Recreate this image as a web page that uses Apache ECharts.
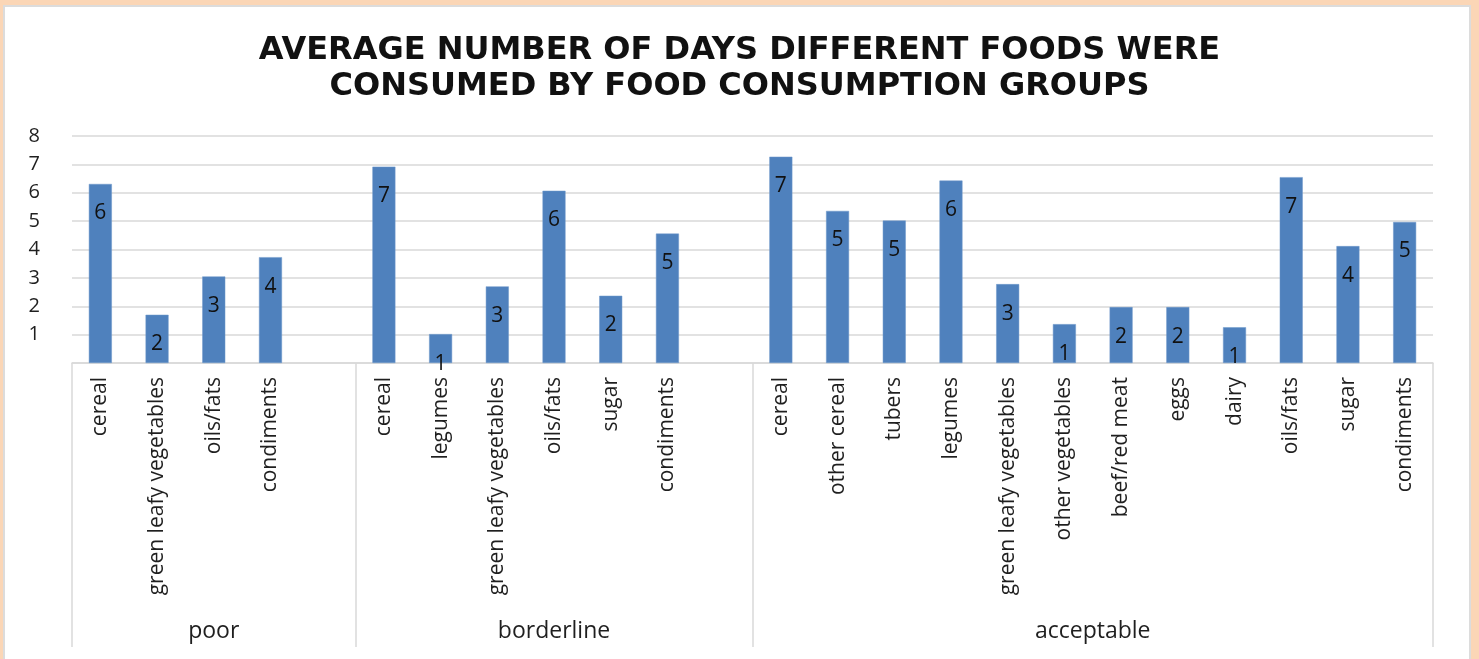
<!DOCTYPE html>
<html>
<head>
<meta charset="utf-8">
<title>Average number of days different foods were consumed</title>
<script src="https://cdn.jsdelivr.net/npm/echarts@6/dist/echarts.min.js"></script>
<style>
  html, body { margin: 0; padding: 0; width: 1479px; height: 659px; background: #FBD6B6; overflow: hidden; }
  #panel { position: absolute; left: 3px; top: 5px; width: 1468px; height: 654px; background: #fff;
           border-left: 2px solid #DCDCDC; border-top: 2px solid #DCDCDC; border-right: 2px solid #DCDCDC; box-sizing: border-box; }
  #chart { position: absolute; left: 0; top: 0; width: 1479px; height: 659px; }
</style>
</head>
<body>
<div id="panel"></div>
<div id="chart"></div>
<script>
// Food consumption groups and the foods counted in each
const groupNames = ['poor', 'borderline', 'acceptable'];

const poorFoods = ['cereal', 'green leafy vegetables', 'oils/fats', 'condiments'];
const poorDays = [6.31, 1.70, 3.05, 3.73];

const borderlineFoods = ['cereal', 'legumes', 'green leafy vegetables', 'oils/fats', 'sugar', 'condiments'];
const borderlineDays = [6.92, 1.02, 2.70, 6.07, 2.37, 4.56];

const acceptableFoods = ['cereal', 'other cereal', 'tubers', 'legumes', 'green leafy vegetables',
  'other vegetables', 'beef/red meat', 'eggs', 'dairy', 'oils/fats', 'sugar', 'condiments'];
const acceptableDays = [7.27, 5.36, 5.02, 6.43, 2.78, 1.37, 1.97, 1.97, 1.26, 6.55, 4.12, 4.97];

const yTicks = [0, 1, 2, 3, 4, 5, 6, 7, 8];

// Flatten into one category list; an empty slot follows every group but the last
const groupFoods = [poorFoods, borderlineFoods, acceptableFoods];
const groupDays = [poorDays, borderlineDays, acceptableDays];
const categories = [];
const values = [];
const groupSpans = [];
groupFoods.forEach((foods, g) => {
  const start = categories.length;
  foods.forEach((f, i) => { categories.push(f); values.push(groupDays[g][i]); });
  if (g < groupFoods.length - 1) { categories.push(''); values.push(null); }
  groupSpans.push([start, categories.length]);
});

// Group axis: boundary points on half-category steps so labels can sit at group centres
const halfSteps = categories.length * 2;
const groupAxisData = [];
const dividerIdx = new Set([0]);
const labelIdx = {};
for (let k = 0; k <= halfSteps; k++) groupAxisData.push('');
groupSpans.forEach(([s, e], g) => {
  dividerIdx.add(e * 2);
  const mid = s + e;           // (s+e)/2 in categories = s+e in half steps
  labelIdx[mid] = groupNames[g];
  groupAxisData[mid] = groupNames[g];
});

const chart = echarts.init(document.getElementById('chart'));
const axisGray = '#D9D9D9';
const textColor = '#1F1F1F';

chart.setOption({
  backgroundColor: 'transparent',
  animation: false,
  title: {
    text: 'AVERAGE NUMBER OF DAYS DIFFERENT FOODS WERE\nCONSUMED BY FOOD CONSUMPTION GROUPS',
    left: 'center',
    top: 28,
    textStyle: { fontFamily: 'DejaVu Sans', fontWeight: 'bold', fontSize: 32, lineHeight: 36, color: '#111' }
  },
  grid: { left: 72, right: 46, top: 136, bottom: 296, containLabel: false },
  yAxis: {
    type: 'value',
    min: yTicks[0],
    max: yTicks[yTicks.length - 1],
    interval: 1,
    axisLine: { show: false },
    axisTick: { show: false },
    splitLine: { lineStyle: { color: axisGray, width: 1.5 } },
    axisLabel: {
      margin: 32,
      fontFamily: 'Open Sans',
      fontSize: 20,
      color: textColor,
      formatter: v => (v === 0 ? '' : String(v))
    }
  },
  xAxis: [
    {
      type: 'category',
      data: categories,
      position: 'bottom',
      axisLine: { show: true, lineStyle: { color: axisGray, width: 1.5 } },
      axisTick: { show: false },
      axisLabel: {
        interval: 0,
        rotate: 90,
        margin: 14,
        fontFamily: 'Open Sans',
        fontSize: 21,
        color: textColor
      }
    },
    {
      type: 'category',
      data: groupAxisData,
      position: 'bottom',
      boundaryGap: false,
      axisLine: { show: false },
      axisTick: {
        show: true,
        length: 284,
        interval: (i) => dividerIdx.has(i),
        lineStyle: { color: axisGray, width: 1.5 }
      },
      axisLabel: {
        interval: (i) => labelIdx[i] !== undefined,
        margin: 257,
        fontFamily: 'Open Sans',
        fontSize: 23,
        color: textColor
      }
    }
  ],
  series: [{
    type: 'bar',
    xAxisIndex: 0,
    data: values,
    barWidth: 23,
    itemStyle: { color: '#4F81BD', borderColor: '#6E98CB', borderWidth: 0.5 },
    label: {
      show: true,
      position: 'insideTop',
      distance: 19,
      fontFamily: 'Open Sans',
      fontSize: 21,
      color: '#111',
      formatter: p => (p.value == null ? '' : String(Math.round(p.value)))
    }
  }]
});
</script>
</body>
</html>
